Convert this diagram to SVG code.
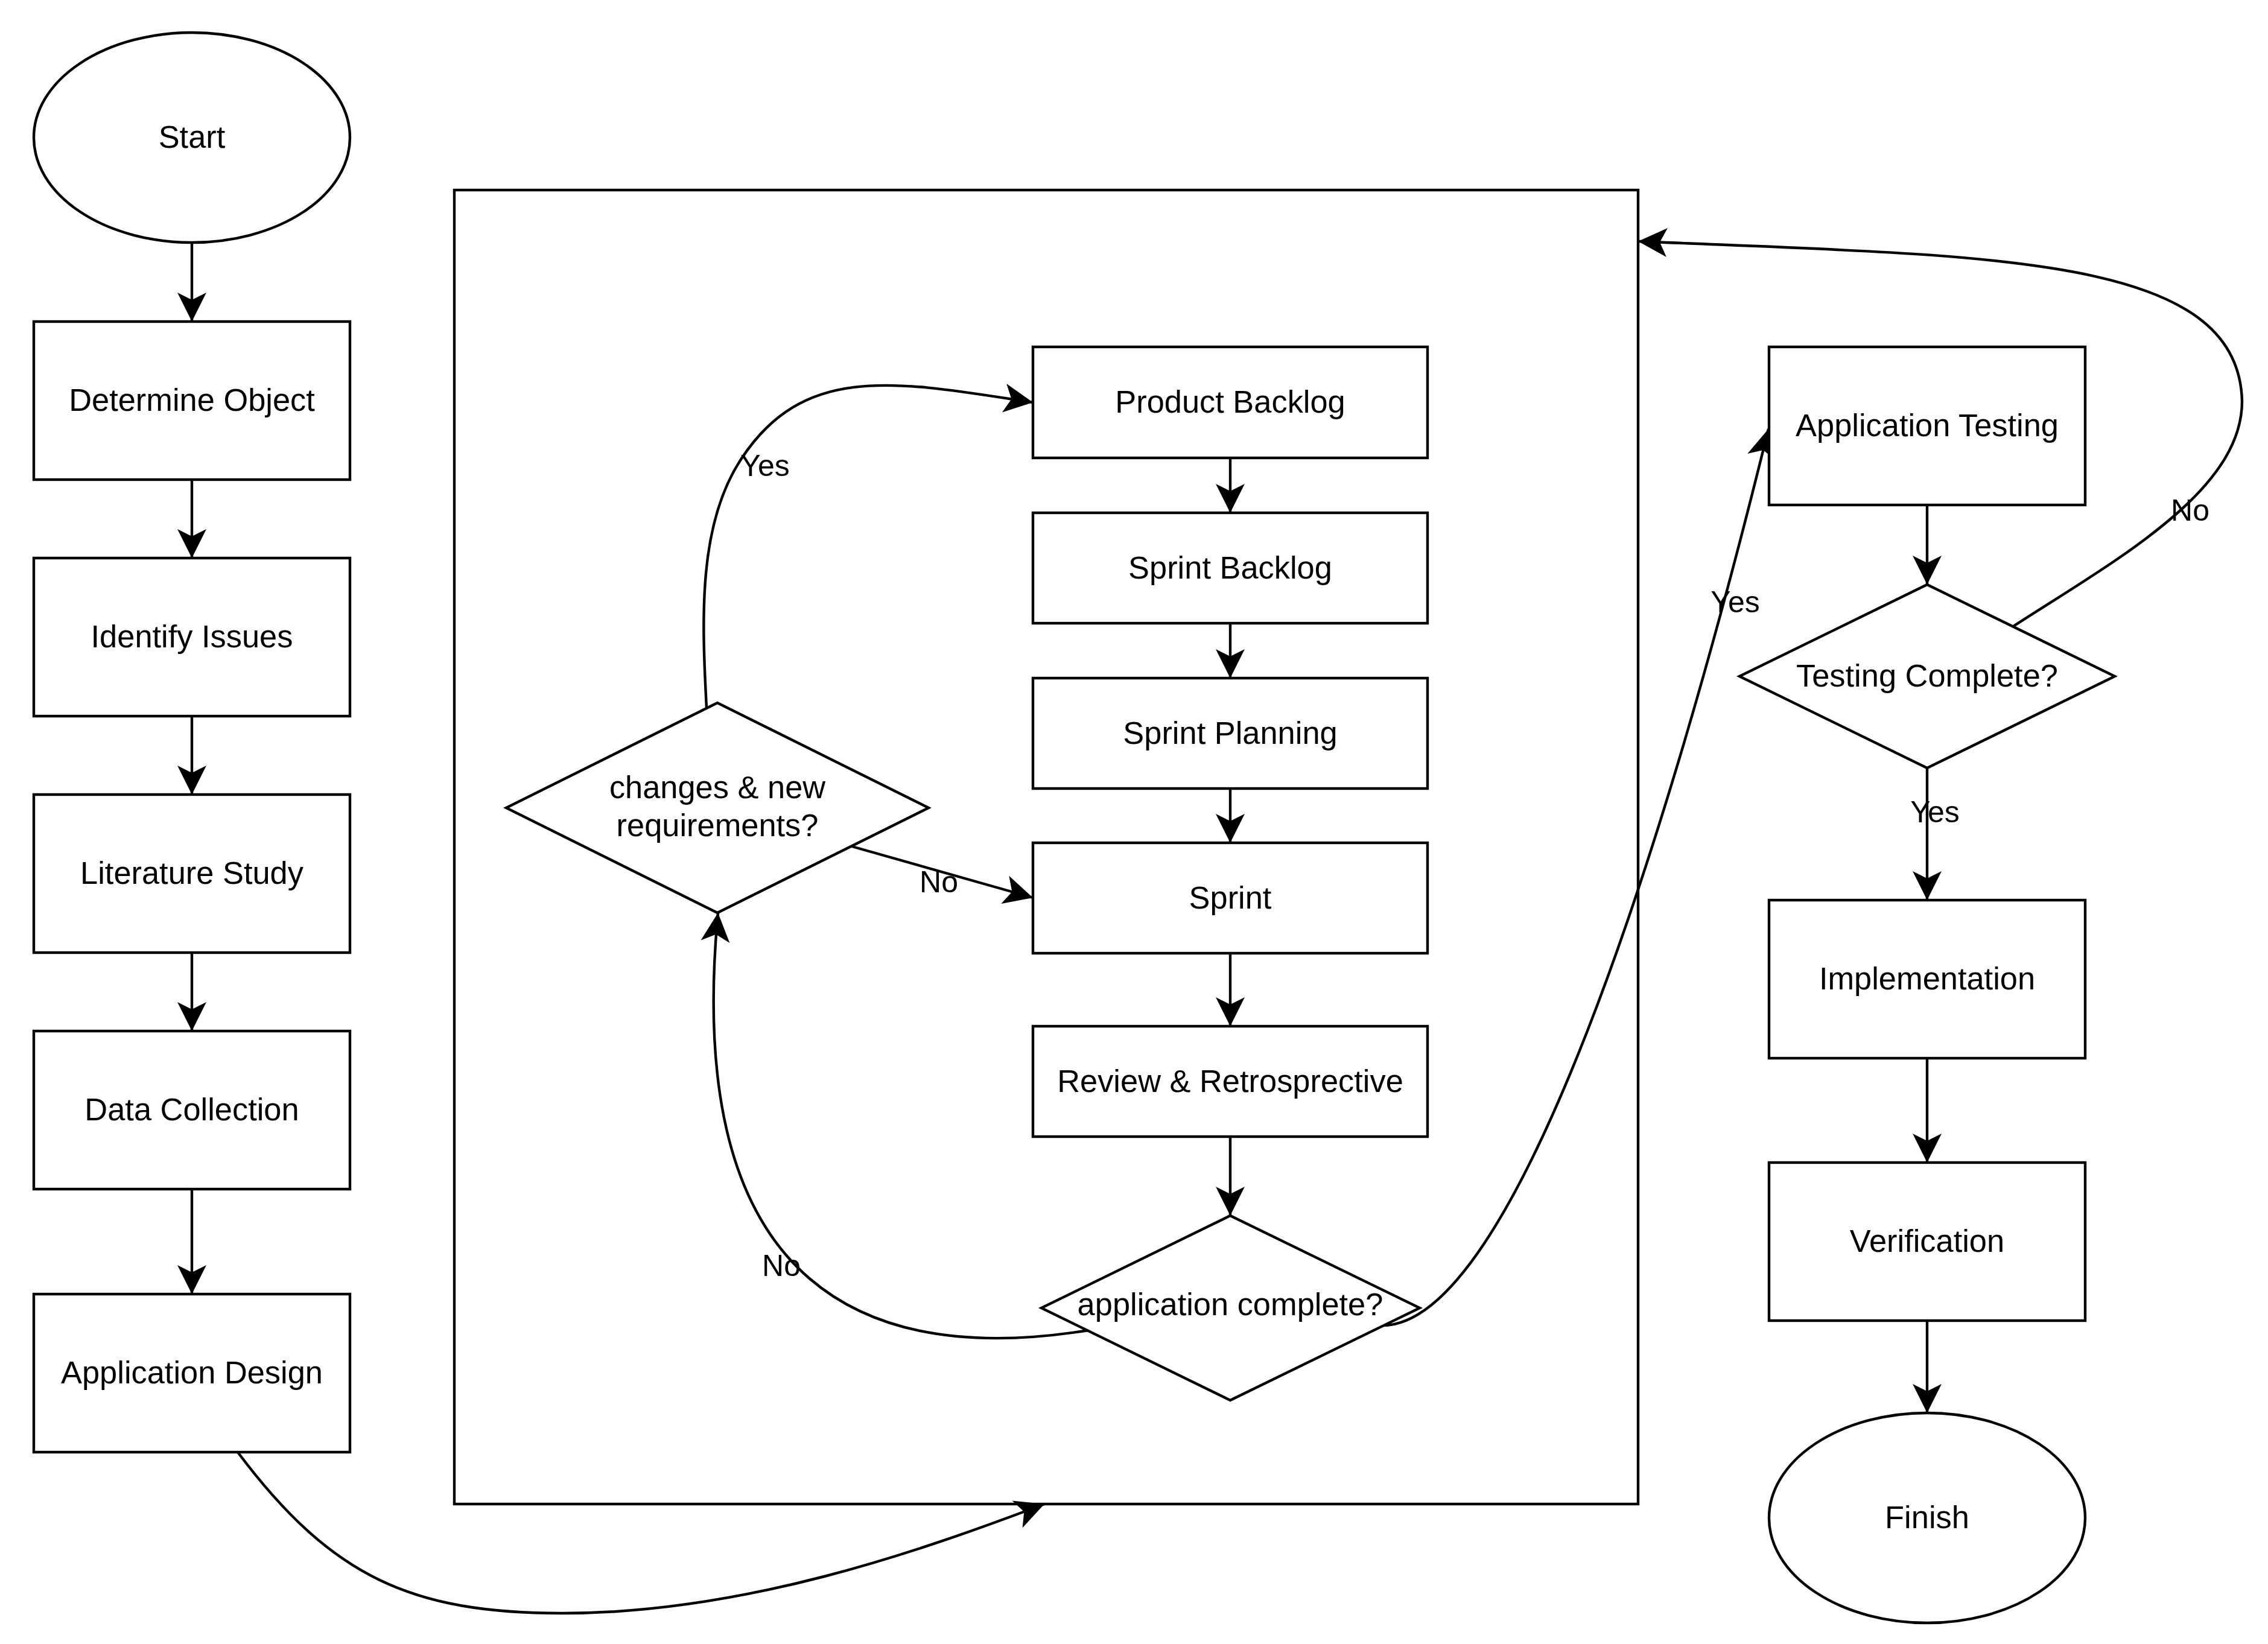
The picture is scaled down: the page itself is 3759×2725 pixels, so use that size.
<svg xmlns="http://www.w3.org/2000/svg" width="3759" height="2725" viewBox="0 0 3759 2725">
  <style>
    .node { fill: #ffffff; stroke: #000000; stroke-width: 4.4; }
    .container { fill: none; stroke: #000000; stroke-width: 4.4; }
    .lbl { font-family: "Liberation Sans", Arial, sans-serif; font-size: 52.4px; text-anchor: middle; fill: #000000; }
    .elbl { font-family: "Liberation Sans", Arial, sans-serif; font-size: 50px; text-anchor: middle; fill: #000000; }
    .edge { fill: none; stroke: #000000; stroke-width: 4.4; marker-end: url(#arrow); }
  </style>
  <defs>
    <marker id="arrow" markerUnits="userSpaceOnUse" viewBox="-50 -26 52 52" refX="0" refY="0" markerWidth="52" markerHeight="52" orient="auto">
      <path d="M0,0 L-48,-24 L-36,0 L-48,24 Z" fill="#000000"/>
    </marker>
  </defs>
  <rect width="3759" height="2725" fill="#ffffff"/>

  <g id="sprint-container">
    <rect class="container" x="753" y="315" width="1962" height="2178"/>
  </g>

  <g id="connectors">
    <path class="edge" d="M318,402 L318,533"/>
    <path class="edge" d="M318,795 L318,925"/>
    <path class="edge" d="M318,1187 L318,1317"/>
    <path class="edge" d="M318,1579 L318,1709"/>
    <path class="edge" d="M318,1971 L318,2145"/>
    <path class="edge" d="M394,2407 C550,2615 683,2674 933,2674 C1233,2674 1525,2571 1731,2493"/>

    <path class="edge" d="M2039,759 L2039,850"/>
    <path class="edge" d="M2039,1033 L2039,1124"/>
    <path class="edge" d="M2039,1307 L2039,1397"/>
    <path class="edge" d="M2039,1580 L2039,1701"/>
    <path class="edge" d="M2039,1884 L2039,2015"/>

    <path class="edge" d="M1171,1173 C1163,1023 1157,868 1229,760 C1334,601 1485,632 1712,667"/>
    <path class="edge" d="M1412,1403 L1712,1488"/>
    <path class="edge" d="M1804,2205 C1450,2262 1130,2150 1190,1513"/>
    <path class="edge" d="M2291,2197 C2511,2197 2764,1391 2931,711"/>

    <path class="edge" d="M3194,838 L3194,969"/>
    <path class="edge" d="M3194,1273 L3194,1492"/>
    <path class="edge" d="M3194,1754 L3194,1927"/>
    <path class="edge" d="M3194,2189 L3194,2342"/>
    <path class="edge" d="M3337,1038 C3505,929 3716,815 3716,665 C3710,420 3300,425 2715,400"/>

    <text class="elbl" x="1268" y="789">Yes</text>
    <text class="elbl" x="1556" y="1479">No</text>
    <text class="elbl" x="1295" y="2115">No</text>
    <text class="elbl" x="2876" y="1015">Yes</text>
    <text class="elbl" x="3630" y="863">No</text>
    <text class="elbl" x="3207" y="1363">Yes</text>
  </g>

  <g id="start">
    <ellipse class="node" cx="318" cy="228" rx="262" ry="174"/>
    <text class="lbl" x="318" y="245">Start</text>
  </g>
  <g id="determine-object">
    <rect class="node" x="56" y="533" width="524" height="262"/>
    <text class="lbl" x="318" y="681">Determine Object</text>
  </g>
  <g id="identify-issues">
    <rect class="node" x="56" y="925" width="524" height="262"/>
    <text class="lbl" x="318" y="1073">Identify Issues</text>
  </g>
  <g id="literature-study">
    <rect class="node" x="56" y="1317" width="524" height="262"/>
    <text class="lbl" x="318" y="1465">Literature Study</text>
  </g>
  <g id="data-collection">
    <rect class="node" x="56" y="1709" width="524" height="262"/>
    <text class="lbl" x="318" y="1857">Data Collection</text>
  </g>
  <g id="application-design">
    <rect class="node" x="56" y="2145" width="524" height="262"/>
    <text class="lbl" x="318" y="2293">Application Design</text>
  </g>

  <g id="product-backlog">
    <rect class="node" x="1712" y="575" width="654" height="184"/>
    <text class="lbl" x="2039" y="684">Product Backlog</text>
  </g>
  <g id="sprint-backlog">
    <rect class="node" x="1712" y="850" width="654" height="183"/>
    <text class="lbl" x="2039" y="959">Sprint Backlog</text>
  </g>
  <g id="sprint-planning">
    <rect class="node" x="1712" y="1124" width="654" height="183"/>
    <text class="lbl" x="2039" y="1233">Sprint Planning</text>
  </g>
  <g id="sprint">
    <rect class="node" x="1712" y="1397" width="654" height="183"/>
    <text class="lbl" x="2039" y="1506">Sprint</text>
  </g>
  <g id="review-retrospective">
    <rect class="node" x="1712" y="1701" width="654" height="183"/>
    <text class="lbl" x="2039" y="1810">Review &amp; Retrosprective</text>
  </g>
  <g id="application-complete">
    <polygon class="node" points="2039,2015 2353,2168 2039,2321 1726,2168"/>
    <text class="lbl" x="2039" y="2180">application complete?</text>
  </g>
  <g id="changes-requirements">
    <polygon class="node" points="1189,1165 1539,1339 1189,1513 839,1339"/>
    <text class="lbl" x="1189" y="1323">changes &amp; new</text>
    <text class="lbl" x="1189" y="1386">requirements?</text>
  </g>

  <g id="application-testing">
    <rect class="node" x="2932" y="575" width="524" height="262"/>
    <text class="lbl" x="3194" y="723">Application Testing</text>
  </g>
  <g id="testing-complete">
    <polygon class="node" points="3194,969 3505,1121 3194,1273 2883,1121"/>
    <text class="lbl" x="3194" y="1138">Testing Complete?</text>
  </g>
  <g id="implementation">
    <rect class="node" x="2932" y="1492" width="524" height="262"/>
    <text class="lbl" x="3194" y="1640">Implementation</text>
  </g>
  <g id="verification">
    <rect class="node" x="2932" y="1927" width="524" height="262"/>
    <text class="lbl" x="3194" y="2075">Verification</text>
  </g>
  <g id="finish">
    <ellipse class="node" cx="3194" cy="2516" rx="262" ry="174"/>
    <text class="lbl" x="3194" y="2533">Finish</text>
  </g>
</svg>
